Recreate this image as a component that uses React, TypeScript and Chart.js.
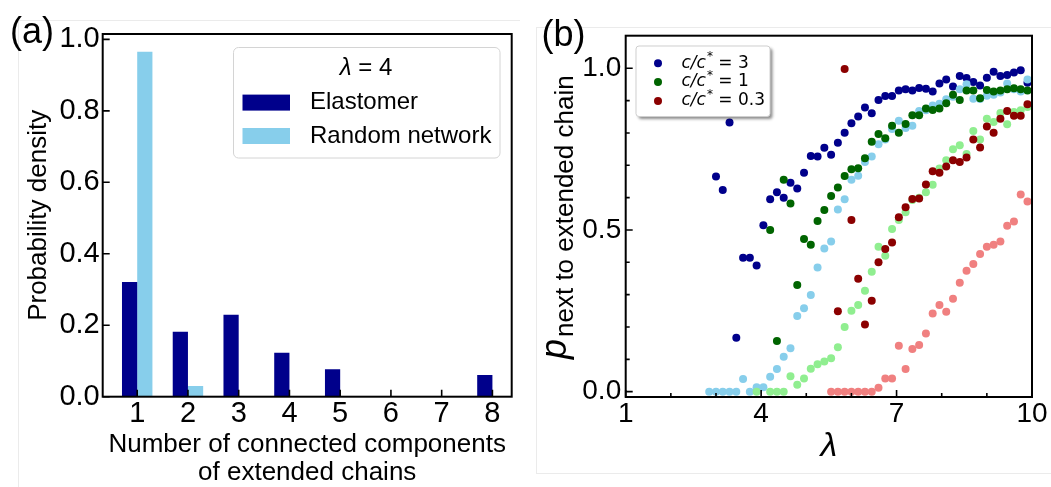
import { useEffect, useRef } from 'react';
import { Chart, registerables } from 'chart.js';

Chart.register(...registerables);

const FONT = "'Liberation Sans', Arial, Helvetica, sans-serif";
const MATH_FONT = "'DejaVu Sans', 'Liberation Sans', sans-serif";

// ---------- (a) distribution of connected components at a fixed stretch ----------
const componentCounts = [1, 2, 3, 4, 5, 6, 7, 8];
const elastomerDensity = [0.321, 0.182, 0.229, 0.123, 0.077, 0, 0, 0.061];
const randomNetworkDensity = [0.965, 0.03, 0, 0, 0, 0, 0, 0];
const densityTicks = [0, 0.2, 0.4, 0.6, 0.8, 1.0];
const histogramSeries = ['Elastomer', 'Random network'];
const histogramLambda = '4';

// ---------- (b) probability of a chain sitting next to an extended chain ----------
const lambdaValues = [
  2.85, 3.0, 3.15, 3.3, 3.45, 3.6, 3.75, 3.9, 4.05, 4.2, 4.35, 4.5, 4.65, 4.8, 4.95, 5.1,
  5.25, 5.4, 5.55, 5.7, 5.85, 6.0, 6.15, 6.3, 6.45, 6.6, 6.75, 6.9, 7.05, 7.2, 7.35, 7.5,
  7.65, 7.8, 7.95, 8.1, 8.25, 8.4, 8.55, 8.7, 8.85, 9.0, 9.15, 9.3, 9.45, 9.6, 9.75, 9.9,
];
// c/c* = 3
const elastomerC3 = [
  null, 0.665, 0.624, 0.832, 0.167, 0.414, 0.414, 0.39, 0.515, 0.595, 0.617, 0.6, 0.646, 0.628, 0.677, 0.729,
  0.727, 0.754, 0.733, 0.77, 0.801, 0.83, 0.851, 0.879, 0.861, 0.902, 0.914, 0.914, 0.931, 0.935, 0.931, 0.939,
  0.937, 0.928, 0.953, 0.965, 0.944, 0.976, 0.97, 0.958, 0.947, 0.971, 0.989, 0.976, 0.979, 0.987, 0.994, 0.955,
];
const randomC3 = [
  0, 0, 0, 0, 0, 0.039, 0, 0.014, 0.014, 0.046, 0.07, 0.108, 0.134, 0.234, 0.258, 0.299,
  0.384, 0.443, 0.464, 0.563, 0.595, 0.655, 0.668, 0.71, 0.727, 0.765, 0.78, 0.812, 0.838, 0.815, 0.822, 0.868,
  0.87, 0.885, 0.89, 0.904, 0.912, 0.935, 0.951, 0.906, 0.905, 0.915, 0.918, 0.925, 0.953, 0.935, 0.928, 0.965,
];
// c/c* = 1
const elastomerC1 = [
  null, null, null, null, null, null, null, null, null, 0.5, 0.157, 0.655, 0.582, 0.33, 0.472, 0.454,
  0.528, 0.562, 0.605, 0.631, 0.667, 0.688, 0.691, 0.722, 0.773, 0.797, 0.784, 0.822, 0.801, 0.828, 0.855, 0.855,
  0.876, 0.871, 0.876, 0.892, 0.918, 0.902, 0.931, 0.931, 0.907, 0.933, 0.928, 0.931, 0.935, 0.938, 0.935, 0.931,
];
const randomC1 = [
  null, null, null, null, null, null, null, 0, null, 0, 0, 0, 0.048, 0.021, 0.041, 0.071,
  0.085, 0.093, 0.103, 0.137, 0.2, 0.25, 0.268, 0.312, 0.371, 0.448, 0.42, 0.503, 0.531, 0.555, 0.593, 0.6,
  0.617, 0.64, 0.69, 0.716, 0.75, 0.762, 0.735, 0.806, 0.78, 0.844, 0.834, 0.862, 0.827, 0.865, 0.87, 0.88,
];
// c/c* = 0.3
const elastomerC03 = [
  null, null, null, null, null, null, null, null, null, null, null, null, null, null, null, null,
  null, null, null, 0.249, 0.998, 0.531, 0.349, 0.208, 0.281, 0.4, 0.441, 0.461, 0.539, 0.57, 0.596, 0.597,
  0.641, 0.682, 0.677, 0.696, 0.716, 0.71, 0.724, 0.78, 0.755, 0.82, 0.801, 0.844, 0.868, 0.853, 0.853, 0.889,
];
const randomC03 = [
  null, null, null, null, null, null, null, null, null, null, null, null, null, null, null, null,
  null, null, 0, 0, 0, 0, 0, 0, 0, 0.012, 0.041, 0.041, 0.142, 0.07, 0.132, 0.144,
  0.18, 0.242, 0.268, 0.247, 0.287, 0.337, 0.374, 0.395, 0.426, 0.448, 0.454, 0.464, 0.513, 0.526, 0.61, 0.588,
];
const lambdaTicks = [1, 4, 7, 10];
const lambdaMinorTicks = [2, 3, 5, 6, 8, 9];
const probabilityTicks = [0, 0.5, 1.0];
const probabilityMinorTicks = [0.1, 0.2, 0.3, 0.4, 0.6, 0.7, 0.8, 0.9];
const concentrationLabels = ['3', '1', '0.3'];

const DARK_BLUE = '#00008b';
const SKY_BLUE = '#87ceeb';
const DARK_GREEN = '#006400';
const LIGHT_GREEN = '#90ee90';
const DARK_RED = '#8b0000';
const LIGHT_CORAL = '#f08080';

function roundRect(ctx: CanvasRenderingContext2D, x: number, y: number, w: number, h: number, r: number) {
  ctx.beginPath();
  ctx.moveTo(x + r, y);
  ctx.lineTo(x + w - r, y);
  ctx.arcTo(x + w, y, x + w, y + r, r);
  ctx.lineTo(x + w, y + h - r);
  ctx.arcTo(x + w, y + h, x + w - r, y + h, r);
  ctx.lineTo(x + r, y + h);
  ctx.arcTo(x, y + h, x, y + h - r, r);
  ctx.lineTo(x, y + r);
  ctx.arcTo(x, y, x + r, y, r);
  ctx.closePath();
}

// Frame around the plot area plus inward-pointing tick marks.
function frameWithInwardTicks(xMajor: number[], xMinor: number[], yMajor: number[], yMinor: number[]) {
  return {
    id: 'frameWithInwardTicks',
    afterDatasetsDraw(chart: any) {
      const { ctx, chartArea, scales } = chart;
      const { left, right, top, bottom } = chartArea;
      ctx.save();
      ctx.strokeStyle = '#000';
      ctx.lineWidth = 1.6;
      ctx.beginPath();
      xMajor.forEach((v) => {
        const px = scales.x.getPixelForValue(v);
        ctx.moveTo(px, bottom);
        ctx.lineTo(px, bottom - 7);
      });
      xMinor.forEach((v) => {
        const px = scales.x.getPixelForValue(v);
        ctx.moveTo(px, bottom);
        ctx.lineTo(px, bottom - 4);
      });
      yMajor.forEach((v) => {
        const py = scales.y.getPixelForValue(v);
        ctx.moveTo(left, py);
        ctx.lineTo(left + 7, py);
      });
      yMinor.forEach((v) => {
        const py = scales.y.getPixelForValue(v);
        ctx.moveTo(left, py);
        ctx.lineTo(left + 4, py);
      });
      ctx.stroke();
      ctx.lineWidth = 2;
      ctx.strokeRect(left, top, right - left, bottom - top);
      ctx.restore();
    },
  };
}

function panelLetter(text: string, x: number, baseline: number) {
  return {
    id: 'panelLetter',
    afterDraw(chart: any) {
      const ctx = chart.ctx;
      ctx.save();
      ctx.fillStyle = '#000';
      ctx.font = `36px ${FONT}`;
      ctx.textBaseline = 'alphabetic';
      ctx.textAlign = 'left';
      ctx.fillText(text, x, baseline);
      ctx.restore();
    },
  };
}

const histogramLegend = {
  id: 'histogramLegend',
  afterDraw(chart: any) {
    const ctx = chart.ctx;
    ctx.save();
    roundRect(ctx, 233.5, 47.5, 266.5, 110.5, 5);
    ctx.fillStyle = 'rgba(255,255,255,0.85)';
    ctx.fill();
    ctx.strokeStyle = '#d4d4d4';
    ctx.lineWidth = 1;
    ctx.stroke();

    ctx.fillStyle = '#000';
    ctx.textBaseline = 'middle';
    ctx.textAlign = 'left';
    ctx.font = `italic 24px ${FONT}`;
    const wl = ctx.measureText('λ').width;
    ctx.font = `24px ${FONT}`;
    const rest = ` = ${histogramLambda}`;
    const wr = ctx.measureText(rest).width;
    const x0 = 366 - (wl + wr) / 2;
    ctx.font = `italic 24px ${FONT}`;
    ctx.fillText('λ', x0, 68.5);
    ctx.font = `24px ${FONT}`;
    ctx.fillText(rest, x0 + wl, 68.5);

    const rows = [102.6, 136];
    chart.data.datasets.forEach((ds: any, i: number) => {
      ctx.fillStyle = ds.backgroundColor;
      ctx.fillRect(242.5, rows[i] - 8, 47.5, 16);
      ctx.fillStyle = '#000';
      ctx.fillText(ds.label, 310, rows[i]);
    });
    ctx.restore();
  },
};

const probabilityDecorations = {
  id: 'probabilityDecorations',
  afterDraw(chart: any) {
    const ctx = chart.ctx;
    ctx.save();
    // y-axis title: p with a subscript, rotated
    ctx.fillStyle = '#000';
    ctx.translate(40.5, 359);
    ctx.rotate(-Math.PI / 2);
    ctx.textBaseline = 'alphabetic';
    ctx.textAlign = 'left';
    ctx.font = `italic 36px ${FONT}`;
    ctx.fillText('p', 0, 0);
    const pw = ctx.measureText('p').width;
    ctx.font = `26px ${FONT}`;
    ctx.fillText('next to extended chain', pw + 2, 7);
    ctx.restore();

    // legend with drop shadow
    ctx.save();
    roundRect(ctx, 111, 46, 134, 70.5, 3);
    ctx.shadowColor = 'rgba(0,0,0,0.45)';
    ctx.shadowOffsetX = 2.5;
    ctx.shadowOffsetY = 2.5;
    ctx.shadowBlur = 3;
    ctx.fillStyle = '#ffffff';
    ctx.fill();
    ctx.shadowColor = 'transparent';
    ctx.strokeStyle = '#cfcfcf';
    ctx.lineWidth = 1;
    ctx.stroke();

    const rows = [63.3, 82, 101];
    const legendSets = [0, 2, 4].map((i) => chart.data.datasets[i]);
    legendSets.forEach((ds: any, i: number) => {
      const y = rows[i];
      ctx.fillStyle = ds.backgroundColor;
      ctx.beginPath();
      ctx.arc(133, y, 4, 0, Math.PI * 2);
      ctx.fill();
      ctx.fillStyle = '#000';
      ctx.textBaseline = 'middle';
      let x = 156.5;
      ctx.font = `italic 17px ${MATH_FONT}`;
      ctx.fillText('c/c', x, y);
      x += ctx.measureText('c/c').width + 1;
      ctx.font = `12px ${MATH_FONT}`;
      ctx.fillText('*', x, y - 6);
      x += ctx.measureText('*').width;
      ctx.font = `17px ${MATH_FONT}`;
      ctx.fillText(` = ${concentrationLabels[i]}`, x, y);
    });
    ctx.restore();
  },
};

function HistogramPanel() {
  const ref = useRef<HTMLCanvasElement | null>(null);
  useEffect(() => {
    if (!ref.current) return;
    const chart = new Chart(ref.current, {
      type: 'bar',
      data: {
        datasets: [
          {
            label: histogramSeries[0],
            data: componentCounts.map((c, i) => ({ x: c, y: elastomerDensity[i] })),
            backgroundColor: DARK_BLUE,
            borderWidth: 0,
            categoryPercentage: 0.6,
            barPercentage: 1,
          },
          {
            label: histogramSeries[1],
            data: componentCounts.map((c, i) => ({ x: c, y: randomNetworkDensity[i] })),
            backgroundColor: SKY_BLUE,
            borderWidth: 0,
            categoryPercentage: 0.6,
            barPercentage: 1,
          },
        ],
      } as any,
      options: {
        responsive: false,
        animation: false,
        devicePixelRatio: 1,
        layout: { padding: { top: 34, right: 13.3, left: 0, bottom: 0 } },
        plugins: { legend: { display: false }, tooltip: { enabled: false } },
        scales: {
          x: {
            type: 'linear',
            min: 0.32,
            max: 8.38,
            offset: false,
            grid: { display: false, drawTicks: false },
            border: { display: false },
            afterBuildTicks: (axis: any) => {
              axis.ticks = componentCounts.map((v) => ({ value: v }));
            },
            afterFit: (s: any) => {
              s.height = 487 - 396.7;
            },
            ticks: {
              autoSkip: false,
              maxRotation: 0,
              padding: 0,
              color: '#000',
              font: { family: FONT, size: 29 },
              callback: (v: any) => String(v),
            },
            title: {
              display: true,
              text: ['Number of connected components', 'of extended chains'],
              color: '#000',
              font: { family: FONT, size: 26, lineHeight: 1.08 },
              padding: { top: 0, bottom: 0 },
            },
          },
          y: {
            min: 0,
            max: 1.015,
            grid: { display: false, drawTicks: false },
            border: { display: false },
            afterBuildTicks: (axis: any) => {
              axis.ticks = densityTicks.map((v) => ({ value: v }));
            },
            afterFit: (s: any) => {
              s.width = 102.7;
            },
            ticks: {
              padding: 3,
              color: '#000',
              font: { family: FONT, size: 29 },
              callback: (v: any) => Number(v).toFixed(1),
            },
            title: {
              display: true,
              text: 'Probability density',
              color: '#000',
              font: { family: FONT, size: 26 },
              padding: { top: 23, bottom: 0 },
            },
          },
        },
      } as any,
      plugins: [
        frameWithInwardTicks(componentCounts, [], densityTicks, []),
        histogramLegend,
        panelLetter('(a)', 10, 42.5),
      ],
    });
    return () => chart.destroy();
  }, []);
  return <canvas ref={ref} width={525} height={487} style={{ display: 'block' }} />;
}

function ProbabilityPanel() {
  const ref = useRef<HTMLCanvasElement | null>(null);
  useEffect(() => {
    if (!ref.current) return;
    const toPoints = (values: (number | null)[]) =>
      lambdaValues
        .map((x, i) => (values[i] === null ? null : { x, y: values[i] as number }))
        .filter((p) => p !== null);
    const series = [
      { label: 'c/c* = 3', values: elastomerC3, color: DARK_BLUE, order: 6 },
      { label: 'c/c* = 3, random', values: randomC3, color: SKY_BLUE, order: 5 },
      { label: 'c/c* = 1', values: elastomerC1, color: DARK_GREEN, order: 4 },
      { label: 'c/c* = 1, random', values: randomC1, color: LIGHT_GREEN, order: 3 },
      { label: 'c/c* = 0.3', values: elastomerC03, color: DARK_RED, order: 2 },
      { label: 'c/c* = 0.3, random', values: randomC03, color: LIGHT_CORAL, order: 1 },
    ];
    const chart = new Chart(ref.current, {
      type: 'scatter',
      data: {
        datasets: series.map((s) => ({
          label: s.label,
          data: toPoints(s.values),
          backgroundColor: s.color,
          borderWidth: 0,
          pointRadius: 4,
          pointHoverRadius: 4,
          order: s.order,
        })),
      } as any,
      options: {
        responsive: false,
        animation: false,
        devicePixelRatio: 1,
        layout: { padding: { top: 35.7, right: 19, left: 0, bottom: 0 } },
        plugins: { legend: { display: false }, tooltip: { enabled: false } },
        scales: {
          x: {
            type: 'linear',
            min: 1,
            max: 10,
            grid: { display: false, drawTicks: false },
            border: { display: false },
            afterBuildTicks: (axis: any) => {
              axis.ticks = lambdaTicks.map((v) => ({ value: v }));
            },
            afterFit: (s: any) => {
              s.height = 487 - 397;
            },
            ticks: {
              autoSkip: false,
              maxRotation: 0,
              padding: 0,
              color: '#000',
              font: { family: FONT, size: 28 },
              callback: (v: any) => String(v),
            },
            title: {
              display: true,
              text: 'λ',
              color: '#000',
              font: { family: FONT, size: 34, style: 'italic' },
              padding: { top: 0, bottom: 20.5 },
            },
          },
          y: {
            type: 'linear',
            min: -0.0165,
            max: 1.1008,
            grid: { display: false, drawTicks: false },
            border: { display: false },
            afterBuildTicks: (axis: any) => {
              axis.ticks = probabilityTicks.map((v) => ({ value: v }));
            },
            afterFit: (s: any) => {
              s.width = 100.7;
            },
            ticks: {
              padding: 4.5,
              color: '#000',
              font: { family: FONT, size: 28 },
              callback: (v: any) => Number(v).toFixed(1),
            },
          },
        },
      } as any,
      plugins: [
        frameWithInwardTicks(lambdaTicks, lambdaMinorTicks, probabilityTicks, probabilityMinorTicks),
        probabilityDecorations,
        panelLetter('(b)', 16.5, 45.7),
      ],
    });
    return () => chart.destroy();
  }, []);
  return <canvas ref={ref} width={526} height={487} style={{ display: 'block' }} />;
}

export default function App() {
  useEffect(() => {
    document.body.style.margin = '0';
    document.body.style.background = '#ffffff';
  }, []);
  const faint = '#ebebeb';
  return (
    <div style={{ position: 'relative', width: 1051, height: 487, background: '#fff', overflow: 'hidden' }}>
      {/* faint panel outlines */}
      <div style={{ position: 'absolute', left: 18, top: 20, width: 502, height: 1, background: faint }} />
      <div style={{ position: 'absolute', left: 18, top: 20, width: 1, height: 467, background: faint }} />
      <div style={{ position: 'absolute', left: 536, top: 27, width: 515, height: 1, background: faint }} />
      <div style={{ position: 'absolute', left: 536, top: 473, width: 515, height: 1, background: faint }} />
      <div style={{ position: 'absolute', left: 536, top: 27, width: 1, height: 447, background: faint }} />
      <div style={{ position: 'absolute', left: 0, top: 0 }}>
        <HistogramPanel />
      </div>
      <div style={{ position: 'absolute', left: 525, top: 0 }}>
        <ProbabilityPanel />
      </div>
    </div>
  );
}
